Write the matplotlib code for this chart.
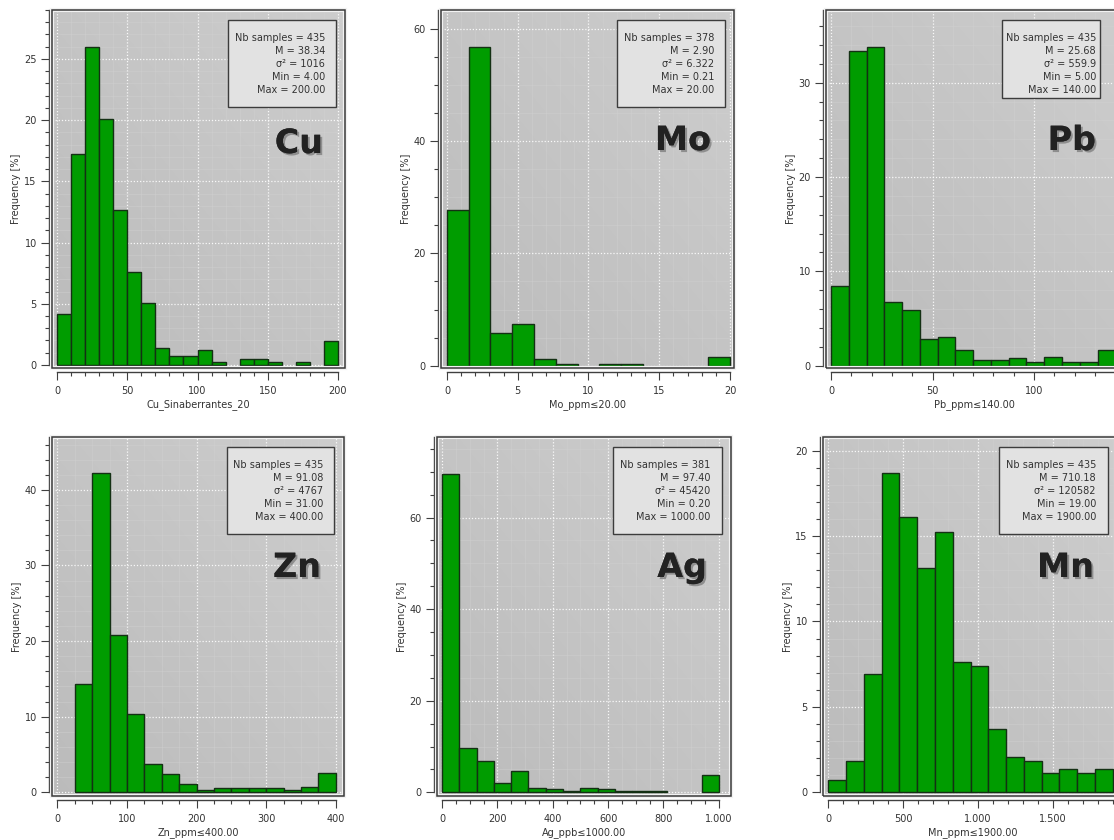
import numpy as np
import matplotlib.pyplot as plt
from matplotlib.patches import Rectangle
from matplotlib.ticker import MultipleLocator, FuncFormatter
import matplotlib.patheffects as pe

W, H = 1114, 840

# Cu
cu_edges = np.arange(0, 201, 10)
cu_freq = [4.2, 17.2, 26.0, 20.1, 12.7, 7.6, 5.1, 1.4, 0.7, 0.7,
           1.2, 0.25, 0, 0.46, 0.46, 0.25, 0, 0.25, 0, 1.95]
cu_stats = ['Nb samples = 435', 'M = 38.34', 'σ² = 1016', 'Min = 4.00', 'Max = 200.00']

# Mo
mo_edges = np.linspace(0, 20, 14)
mo_freq = [27.7, 56.7, 5.8, 7.4, 1.2, 0.4, 0, 0.4, 0.4, 0, 0, 0, 1.55]
mo_stats = ['Nb samples = 378', 'M = 2.90', 'σ² = 6.322', 'Min = 0.21', 'Max = 20.00']

# Pb
pb_edges = np.linspace(0, 140, 17)
pb_freq = [8.4, 33.4, 33.8, 6.75, 5.9, 2.85, 3.05, 1.65, 0.6, 0.6,
           0.8, 0.4, 0.95, 0.4, 0.4, 1.65]
pb_stats = ['Nb samples = 435', 'M = 25.68', 'σ² = 559.9', 'Min = 5.00', 'Max = 140.00']

# Zn
zn_edges = np.arange(25, 401, 25)
zn_freq = [14.3, 42.2, 20.8, 10.4, 3.7, 2.4, 1.15, 0.3, 0.5, 0.5,
           0.5, 0.5, 0.3, 0.75, 2.5]
zn_stats = ['Nb samples = 435', 'M = 91.08', 'σ² = 4767', 'Min = 31.00', 'Max = 400.00']

# Ag
ag_edges = np.linspace(0, 1000, 17)
ag_freq = [69.6, 9.6, 6.9, 1.97, 4.65, 1.05, 0.66, 0.37, 1.05, 0.66,
           0.3, 0.3, 0.3, 0, 0, 3.8]
ag_stats = ['Nb samples = 381', 'M = 97.40', 'σ² = 45420', 'Min = 0.20', 'Max = 1000.00']

# Mn
mn_edges = np.linspace(0, 1900, 17)
mn_freq = [0.72, 1.85, 6.93, 18.67, 16.14, 13.15, 15.22, 7.65, 7.41, 3.7,
           2.07, 1.83, 1.15, 1.39, 1.15, 1.39]
mn_stats = ['Nb samples = 435', 'M = 710.18', 'σ² = 120582', 'Min = 19.00', 'Max = 1900.00']

plt.rcParams['font.family'] = ['DejaVu Sans']
fig = plt.figure(figsize=(W / 100, H / 100), dpi=100)
fig.patch.set_facecolor('white')

TXT = '#333333'


def fx(x):
    return x / W


def fy(y):
    return 1 - y / H


def thousands(v, pos):
    return f'{int(v):,}'.replace(',', '.')


def panel(frame, xlim, ylim, edges, freq, xmax, xmaj, xmin, ymaj, ymin,
          xlabel, stats, box, text_right, name, name_pos, dots=False):
    l, t, r, b = frame
    ax = fig.add_axes([fx(l), fy(b), (r - l) / W, (b - t) / H])

    # grey gradient background
    g = np.linspace(0, 1, 64)
    gg = (g[None, :] + g[:, None][::-1]) / 2
    shade = 0.735 + 0.07 * gg
    ax.imshow(np.dstack([shade, shade, shade]), extent=[0, 1, 0, 1],
              transform=ax.transAxes, aspect='auto', zorder=0,
              interpolation='bicubic')

    edges = np.asarray(edges)
    freq = np.asarray(freq)
    keep = freq > 0
    ax.bar(edges[:-1][keep], freq[keep], width=np.diff(edges)[keep],
           align='edge', color='#009c00', edgecolor='#143014', lw=1.0, zorder=2)

    ax.set_xlim(*xlim)
    ax.set_ylim(*ylim)
    ax.xaxis.set_major_locator(MultipleLocator(xmaj))
    ax.xaxis.set_minor_locator(MultipleLocator(xmin))
    ax.yaxis.set_major_locator(MultipleLocator(ymaj))
    ax.yaxis.set_minor_locator(MultipleLocator(ymin))
    if dots:
        ax.xaxis.set_major_formatter(FuncFormatter(thousands))

    ax.set_axisbelow(True)
    ax.grid(which='major', color='white', ls=(0, (1, 1.5)), lw=0.9, alpha=0.9)
    ax.grid(which='minor', color='#d2d2d2', ls='-', lw=0.5, alpha=0.55)

    for s in ['top', 'right']:
        ax.spines[s].set_visible(False)
    ax.spines['left'].set_position(('outward', 2))
    ax.spines['bottom'].set_position(('outward', 3))
    ax.spines['left'].set_bounds(0, ylim[1])
    ax.spines['bottom'].set_bounds(0, xmax)
    for s in ['left', 'bottom']:
        ax.spines[s].set_color('#404040')
        ax.spines[s].set_linewidth(1.0)

    ax.tick_params(which='major', length=6, width=0.8, color='#404040',
                   labelcolor=TXT, labelsize=7)
    ax.tick_params(which='minor', length=3, width=0.8, color='#404040')
    ax.tick_params(axis='y', which='major', pad=3)
    ax.tick_params(axis='x', which='major', pad=4)

    ax.set_xlabel(xlabel, fontsize=7, color=TXT, labelpad=2)
    ax.set_ylabel('Frequency [%]', fontsize=7, color=TXT, labelpad=2)

    ax.add_patch(Rectangle((0, 0), 1, 1, transform=ax.transAxes, fill=False,
                           edgecolor='#f2f2f2', lw=3.0, zorder=3, clip_on=False))
    ax.add_patch(Rectangle((0, 0), 1, 1, transform=ax.transAxes, fill=False,
                           edgecolor='#3a3a3a', lw=1.1, zorder=4, clip_on=False))

    # statistics box
    bl, bt, br, bb = box
    ax.add_patch(Rectangle((fx(bl), fy(bb)), (br - bl) / W, (bb - bt) / H,
                           transform=fig.transFigure, facecolor='#e2e2e2',
                           edgecolor='#3c3c3c', lw=1.0, zorder=5, clip_on=False))
    for i, line in enumerate(stats):
        ax.text(fx(text_right), fy(bt + 18 + 13 * i), line, transform=fig.transFigure,
                ha='right', va='center', fontsize=7, color=TXT, zorder=6)

    ax.text(fx(name_pos[0]), fy(name_pos[1]), name, transform=fig.transFigure,
            ha='right', va='baseline', fontsize=24, fontweight='bold',
            color='#222222', zorder=6,
            path_effects=[pe.withSimplePatchShadow(offset=(1.5, -1.5),
                                                   shadow_rgbFace='#555555',
                                                   alpha=0.5),
                          pe.Normal()])
    return ax


panel((52, 10, 345, 368), (-3.6, 205), (-0.25, 29.0), cu_edges, cu_freq, 200,
      50, 10, 5, 1, 'Cu_Sinaberrantes_20', cu_stats,
      (228, 20, 336, 107), 325, 'Cu', (323, 153))

panel((441, 10, 734, 368), (-0.42, 20.28), (-0.4, 63.3), mo_edges, mo_freq, 20,
      5, 1, 20, 5, 'Mo_ppm≤20.00', mo_stats,
      (617, 20, 725, 107), 714, 'Mo', (711, 150))

panel((826, 10, 1122, 368), (-2.5, 143.3), (-0.25, 37.7), pb_edges, pb_freq, 140,
      50, 10, 10, 2, 'Pb_ppm≤140.00', pb_stats,
      (1002, 20, 1100, 98), 1096, 'Pb', (1096, 150))

panel((52, 437, 344, 796), (-7.6, 411.8), (-0.5, 47.0), zn_edges, zn_freq, 400,
      100, 25, 10, 2, 'Zn_ppm≤400.00', zn_stats,
      (227, 447, 334, 534), 323, 'Zn', (321, 577))

panel((437, 437, 731, 796), (-18, 1044), (-0.8, 77.6), ag_edges, ag_freq, 1000,
      200, 50, 20, 5, 'Ag_ppb≤1000.00', ag_stats,
      (613, 447, 722, 534), 710, 'Ag', (707, 577), dots=True)

panel((823, 437, 1122, 796), (-35, 1961), (-0.22, 20.8), mn_edges, mn_freq, 1900,
      500, 100, 5, 1, 'Mn_ppm≤1900.00', mn_stats,
      (999, 447, 1108, 534), 1096, 'Mn', (1094, 577), dots=True)

fig.savefig('out.png', dpi=100)
